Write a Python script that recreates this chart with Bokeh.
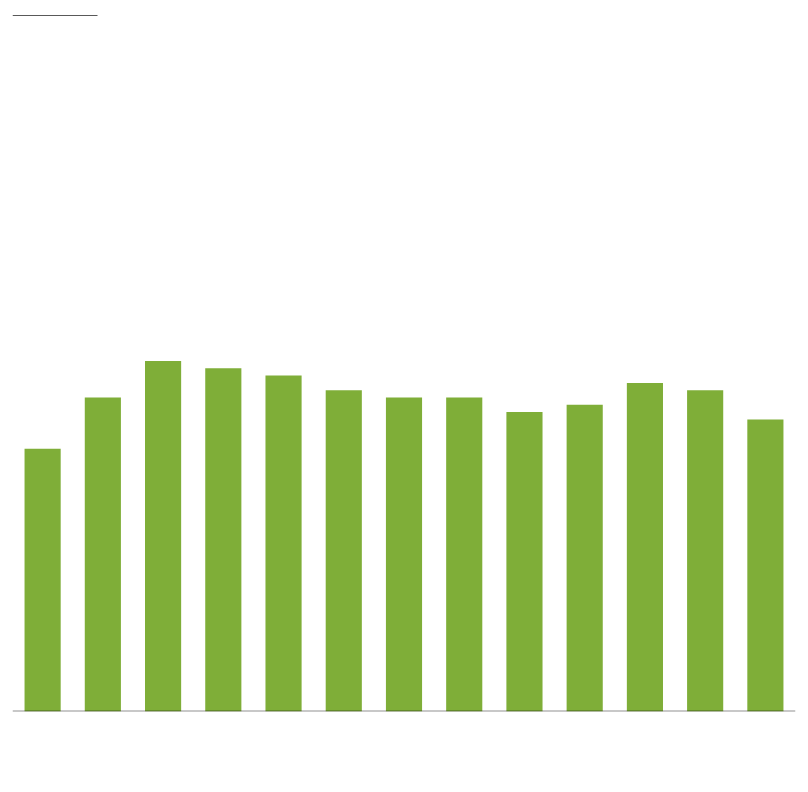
from bokeh.plotting import figure
from bokeh.models import FactorRange, Range1d, Span, BoxAnnotation, ColumnDataSource
from bokeh.embed import file_html
from bokeh.resources import INLINE

categories = ["1", "2", "3", "4", "5", "6", "7", "8", "9", "10", "11", "12", "13"]
values = [36, 43, 48, 47, 46, 44, 43, 43, 41, 42, 45, 44, 40]

src = ColumnDataSource(dict(cat=categories, val=values))

p = figure(width=808, height=792, x_range=FactorRange(*categories, range_padding=0),
           y_range=Range1d(0, 96), output_backend="svg", toolbar_location=None,
           min_border_left=12, min_border_right=13, min_border_top=10, min_border_bottom=81)
p.vbar(x="cat", top="val", width=0.6, source=src, color="#7FAE38", line_color=None)
p.xaxis.visible = False
p.yaxis.visible = False
p.xgrid.visible = False
p.ygrid.visible = False
p.outline_line_color = None
p.add_layout(Span(location=0, dimension="width", line_color="black", line_alpha=0.43, line_width=2))
p.add_layout(BoxAnnotation(left=0, right=85, top=696.5, bottom=695.5, left_units="screen", right_units="screen",
                           top_units="screen", bottom_units="screen", fill_color="#595959",
                           fill_alpha=1, line_color=None))

open("out.html", "w").write(file_html(p, INLINE))
